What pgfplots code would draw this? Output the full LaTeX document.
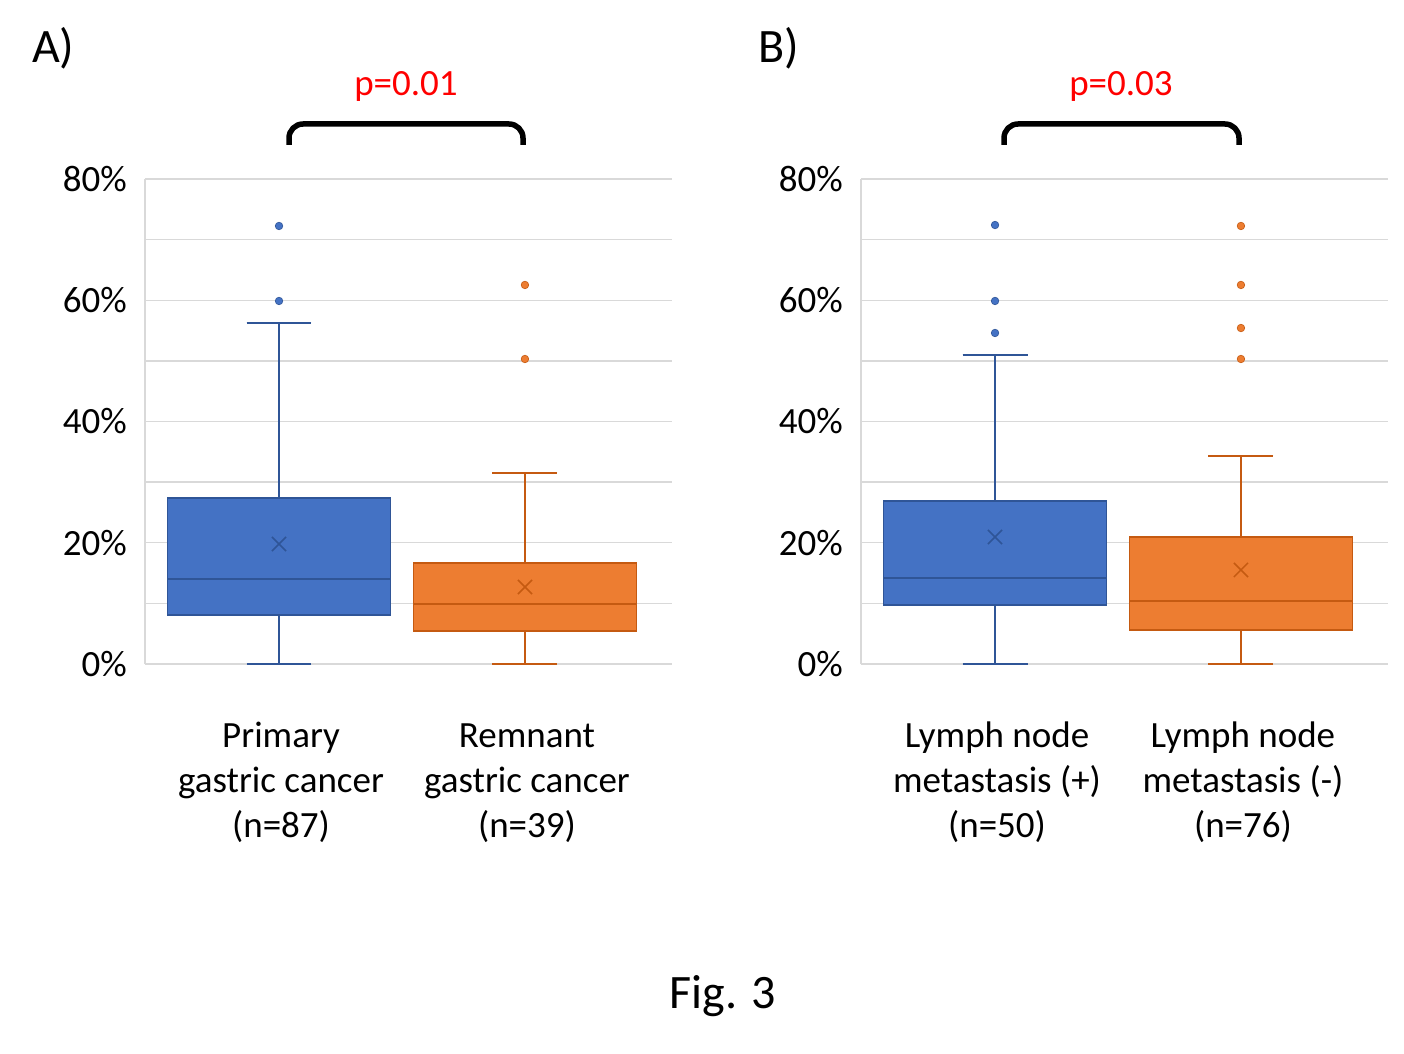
\documentclass[border=0pt]{standalone}
\usepackage{fontspec}
\setmainfont{Carlito}
\usepackage{pgfplots}
\pgfplotsset{compat=1.18}
\usepgfplotslibrary{statistics}

\definecolor{bxblue}{HTML}{4472C4}
\definecolor{bxbluedk}{HTML}{2F5597}
\definecolor{bxorange}{HTML}{ED7D31}
\definecolor{bxorangedk}{HTML}{C55A11}
\definecolor{gridgray}{HTML}{D9D9D9}
\definecolor{pred}{HTML}{FF0000}

\newcommand{\fl}{\rule{0pt}{28pt}}

\pgfplotsset{
  figpanel/.style={
    anchor=south west, scale only axis, width=527pt, height=485pt,
    xmin=-0.545, xmax=1.598, ymin=0, ymax=80,
    axis lines*=left, axis line style={-, draw=gridgray, line width=1.3pt},
    xtick={0,1}, ytick={0,20,40,60,80}, minor ytick={10,30,50,70},
    yticklabels={0\%,20\%,40\%,60\%,80\%},
    ymajorgrids, yminorgrids,
    major grid style={gridgray, line width=1.3pt},
    minor grid style={gridgray, line width=1.3pt},
    major tick length=0pt, minor tick length=0pt,
    tick label style={font=\fontsize{37}{45}\selectfont, inner sep=0pt},
    yticklabel style={anchor=east, xshift=-18pt},
    xticklabel style={align=center, anchor=north, yshift=-55pt, xshift=2pt},
    boxplot/draw direction=y,
    clip=false,
  },
  boxblue/.style={draw=bxbluedk, fill=bxblue, line width=1.8pt, solid},
  boxorange/.style={draw=bxorangedk, fill=bxorange, line width=1.8pt, solid},
  outblue/.style={only marks, mark=*, mark size=3.8pt, mark options={draw=bxbluedk, fill=bxblue, line width=0.6pt}},
  outorange/.style={only marks, mark=*, mark size=3.8pt, mark options={draw=bxorangedk, fill=bxorange, line width=0.6pt}},
  meanblue/.style={only marks, mark=x, mark size=10pt, mark options={draw=bxbluedk, line width=1.5pt}},
  meanorange/.style={only marks, mark=x, mark size=10pt, mark options={draw=bxorangedk, line width=1.5pt}},
}

\begin{document}
\begin{tikzpicture}
\path[use as bounding box] (0pt,0pt) rectangle (1404pt,1053pt);

% ---- panel A
\begin{axis}[figpanel, at={(145pt,389pt)},
  xticklabels={\fl Primary\\gastric cancer\\(n=87), \fl Remnant\\gastric cancer\\(n=39)}]
\addplot[boxblue, boxplot prepared={draw position=0, lower whisker=0, lower quartile=8.08,
  median=14.02, upper quartile=27.38, upper whisker=56.25,
  box extend=0.907, whisker extend=0.264, draw direction=y}] coordinates {};
\addplot[boxorange, boxplot prepared={draw position=1, lower whisker=0, lower quartile=5.44,
  median=9.90, upper quartile=16.66, upper whisker=31.51,
  box extend=0.907, whisker extend=0.264, draw direction=y}] coordinates {};
\addplot[meanblue] coordinates {(0,19.79)};
\addplot[meanorange] coordinates {(1,12.70)};
\addplot[outblue] coordinates {(0,72.25) (0,59.88)};
\addplot[outorange] coordinates {(1,62.52) (1,50.31)};
\end{axis}

% ---- panel B
\begin{axis}[figpanel, at={(861pt,389pt)},
  xticklabels={\fl Lymph node\\metastasis (+)\\(n=50), \fl Lymph node\\metastasis (-)\\(n=76)}]
\addplot[boxblue, boxplot prepared={draw position=0, lower whisker=0, lower quartile=9.73,
  median=14.19, upper quartile=26.89, upper whisker=50.97,
  box extend=0.907, whisker extend=0.264, draw direction=y}] coordinates {};
\addplot[boxorange, boxplot prepared={draw position=1, lower whisker=0, lower quartile=5.61,
  median=10.39, upper quartile=20.95, upper whisker=34.31,
  box extend=0.907, whisker extend=0.264, draw direction=y}] coordinates {};
\addplot[meanblue] coordinates {(0,20.95)};
\addplot[meanorange] coordinates {(1,15.51)};
\addplot[outblue] coordinates {(0,72.41) (0,59.88) (0,54.60)};
\addplot[outorange] coordinates {(1,72.25) (1,62.52) (1,55.42) (1,50.31)};
\end{axis}

% ---- panel letters, p-values, brackets
\node[anchor=base west, inner sep=0pt, font=\fontsize{48}{58}\selectfont] at (32pt,990pt) {A)};
\node[anchor=base west, inner sep=0pt, font=\fontsize{48}{58}\selectfont] at (758pt,990pt) {B)};
\node[anchor=base, inner sep=0pt, text=pred, font=\fontsize{37}{45}\selectfont] at (406pt,957pt) {p=0.01};
\node[anchor=base, inner sep=0pt, text=pred, font=\fontsize{37}{45}\selectfont] at (1121pt,957pt) {p=0.03};
\draw[line width=5.5pt, rounded corners=14pt] (289pt,908pt) -- (289pt,929pt) -- (523pt,929pt) -- (523pt,908pt);
\draw[line width=5.5pt, rounded corners=14pt] (1004pt,908pt) -- (1004pt,929pt) -- (1239pt,929pt) -- (1239pt,908pt);

\node[anchor=base, inner sep=0pt, font=\fontsize{48}{58}\selectfont] at (723pt,45pt) {Fig. 3};
\end{tikzpicture}
\end{document}
